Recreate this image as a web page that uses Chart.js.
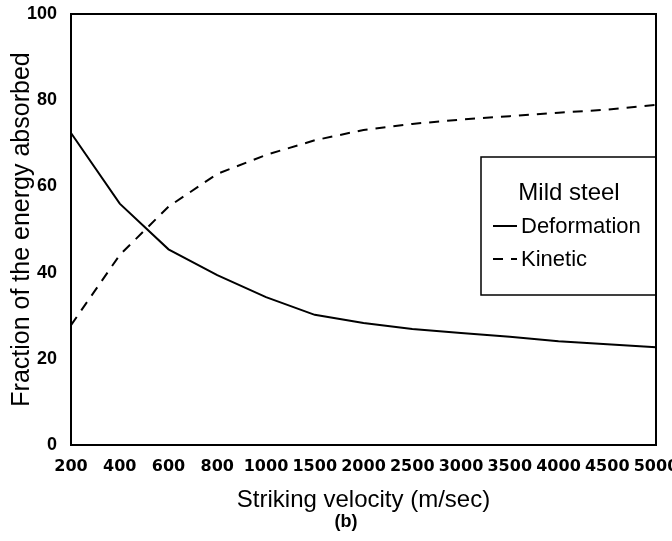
<!DOCTYPE html>
<html>
<head>
<meta charset="utf-8">
<title>Fraction of the energy absorbed - Mild steel</title>
<script src="https://cdn.jsdelivr.net/npm/chart.js@4/dist/chart.umd.min.js"></script>
<style>
  html, body { margin: 0; padding: 0; background: #fff; }
  canvas { display: block; }
</style>
</head>
<body>
<canvas id="chart01" width="672" height="541"></canvas>
<script>
// values
const velocities = ['200', '400', '600', '800', '1000', '1500', '2000', '2500', '3000', '3500', '4000', '4500', '5000']
const deformation = [72.4, 56.0, 45.4, 39.4, 34.3, 30.2, 28.3, 26.9, 26.0, 25.1, 24.1, 23.4, 22.7]
const kinetic = [27.8, 44.1, 55.3, 62.9, 67.3, 70.7, 73.1, 74.5, 75.5, 76.3, 77.1, 77.8, 78.9]
const yTicks = [0, 20, 40, 60, 80, 100]

const ctx = document.getElementById('chart01').getContext('2d')

// frame on top/right, the boxed legend and the "(b)" caption
const figureExtras = {
    id: 'figureExtras',
    afterDraw(chart) {
        const c = chart.ctx
        const area = chart.chartArea
        c.save()
        c.strokeStyle = '#000'
        c.lineWidth = 2
        c.beginPath()
        c.moveTo(area.left, area.top)
        c.lineTo(area.right, area.top)
        c.lineTo(area.right, area.bottom)
        c.stroke()

        // legend box
        const boxLeft = area.right - 175
        const boxTop = 157
        const boxBottom = 295
        c.lineWidth = 1.5
        c.strokeRect(boxLeft, boxTop, area.right - boxLeft, boxBottom - boxTop)

        c.fillStyle = '#000'
        c.textBaseline = 'middle'
        c.textAlign = 'center'
        c.font = '24px "Liberation Sans", Arial, sans-serif'
        c.fillText('Mild steel', boxLeft + 88, boxTop + 36)

        c.textAlign = 'left'
        c.font = '22px "Liberation Sans", Arial, sans-serif'
        chart.data.datasets.forEach((ds, i) => {
            const y = boxTop + 70 + i * 33
            c.lineWidth = 2
            c.setLineDash(ds.borderDash || [])
            c.beginPath()
            c.moveTo(boxLeft + 12, y - 1)
            c.lineTo(boxLeft + 36, y - 1)
            c.stroke()
            c.setLineDash([])
            c.fillText(ds.label, boxLeft + 40, y)
        })

        c.textAlign = 'center'
        c.font = 'bold 18px "Liberation Sans", Arial, sans-serif'
        c.fillText('(b)', 346, 522)
        c.restore()
    }
}

const myChart = new Chart(ctx, {
    type: 'line',
    data: {
        labels: velocities,
        datasets: [{
            label: 'Deformation',
            data: deformation,
            borderColor: '#000',
            borderWidth: 2,
            pointRadius: 0,
            tension: 0,
            fill: false
        }, {
            label: 'Kinetic',
            data: kinetic,
            borderColor: '#000',
            borderWidth: 2,
            borderDash: [10, 8],
            pointRadius: 0,
            tension: 0,
            fill: false
        }]
    },
    options: {
        responsive: false,
        animation: false,
        layout: {
            padding: { top: 14, right: 16, bottom: 26, left: 0 }
        },
        plugins: {
            legend: { display: false },
            tooltip: { enabled: false }
        },
        scales: {
            x: {
                type: 'category',
                offset: false,
                grid: { display: false },
                border: { display: true, color: '#000', width: 2 },
                ticks: {
                    color: '#000',
                    padding: 4,
                    maxRotation: 0,
                    autoSkip: false,
                    font: { family: '"DejaVu Sans", sans-serif', size: 16, weight: 'bold' }
                },
                title: {
                    display: true,
                    text: 'Striking velocity (m/sec)',
                    color: '#000',
                    padding: { top: 0, bottom: 0 },
                    font: { family: '"Liberation Sans", Arial, sans-serif', size: 24 }
                },
                afterFit(scale) {
                    scale.height = 70
                    scale.paddingLeft = 0
                    scale.paddingRight = 0
                }
            },
            y: {
                min: 0,
                max: 100,
                grid: { display: false },
                border: { display: true, color: '#000', width: 2 },
                afterBuildTicks(scale) {
                    scale.ticks = yTicks.map(v => ({ value: v }))
                },
                ticks: {
                    color: '#000',
                    padding: 6,
                    font: { family: '"Liberation Sans", Arial, sans-serif', size: 18, weight: 'bold' }
                },
                title: {
                    display: true,
                    text: 'Fraction of the energy absorbed',
                    color: '#000',
                    padding: { top: 7, bottom: 0 },
                    font: { family: '"Liberation Sans", Arial, sans-serif', size: 25 }
                },
                afterFit(scale) {
                    scale.width = 71
                    scale.paddingTop = 0
                    scale.paddingBottom = 0
                }
            }
        }
    },
    plugins: [figureExtras]
});
</script>
</body>
</html>
